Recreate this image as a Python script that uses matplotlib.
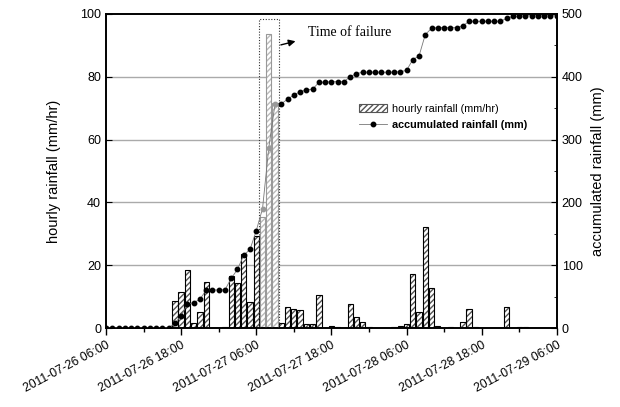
import numpy as np
import pandas as pd
import matplotlib
matplotlib.use("Agg")
import matplotlib.pyplot as plt
import matplotlib.dates as mdates
from matplotlib.patches import Patch, Rectangle
from matplotlib.lines import Line2D

plt.rcParams['font.family'] = ['Liberation Sans', 'DejaVu Sans']

# hourly series, 2011-07-26 06:00 to 2011-07-29 06:00
times = pd.date_range('2011-07-26 06:00', periods=73, freq='h')

hourly_rain = [0, 0, 0, 0, 0, 0, 0, 0, 0, 0, 0,
               8.6, 11.6, 18.5, 1.7, 5.2, 14.5, 0, 0, 0.3,
               16.6, 14.2, 23.5, 8.2, 29.4, 35.4, 93.5, 71.5,
               1.7, 6.7, 6.1, 5.6, 1.2, 1.2, 10.5, 0, 0.6, 0.3, 0,
               7.6, 3.6, 2.0, 0.3, 0, 0, 0, 0.3, 0.6, 1.2,
               17.1, 5.2, 32.1, 12.6, 0.7, 0, 0.3, 0, 1.8, 6.2, 0.3,
               0, 0, 0, 0, 6.7, 0, 0.3, 0.3, 0, 0, 0, 0, 0]

accum_rain = [0, 0, 0, 0, 0, 0, 0, 0, 0, 0, 0,
              7.5, 19.6, 38.2, 40.3, 45.7, 60.5, 60.5, 60.5, 60.8,
              79, 93.4, 116, 125, 155, 190, 287, 357,
              357, 364, 371, 376, 379, 380, 391, 391, 392, 392, 392,
              400, 405, 407, 407, 407, 407, 407, 407, 408, 410,
              427, 433, 467, 477, 478, 478, 478, 478, 481, 488, 488,
              488, 488, 488, 488, 493, 496, 496.5, 497, 497, 497, 497, 497, 497]

# hours falling inside the failure window
failure_idx = [25, 26, 27]

hourly_rain = np.array(hourly_rain)
accum_rain = np.array(accum_rain)
normal = np.ones(len(times), dtype=bool)
normal[failure_idx] = False

fig = plt.figure(figsize=(6.2, 4.07), dpi=100)
ax = fig.add_axes([0.171, 0.194, 0.727, 0.772])
ax2 = ax.twinx()

w = 0.85 / 24
# hatched fill, then the outline on top
ax.bar(times[normal], hourly_rain[normal], width=w, color='white',
       edgecolor='#555555', hatch='//////', linewidth=0, zorder=2)
ax.bar(times[normal], hourly_rain[normal], width=w, fill=False,
       edgecolor='black', linewidth=0.8, zorder=3)
ax.bar(times[~normal], hourly_rain[~normal], width=w, color='white',
       edgecolor='#bbbbbb', hatch='//////', linewidth=0, zorder=2)
ax.bar(times[~normal], hourly_rain[~normal], width=w, fill=False,
       edgecolor='#999999', linewidth=0.8, zorder=3)

ax2.plot(times, accum_rain, color='#777777', lw=0.6, zorder=4)
ax2.plot(times[normal], accum_rain[normal], 'o', color='black', ms=3.2, zorder=5)
ax2.plot(times[~normal], accum_rain[~normal], 'o', color='#999999', ms=3.2, zorder=5)

ax.set_ylim(0, 100)
ax2.set_ylim(0, 500)
ax.set_xlim(times[0], times[-1])
ax.set_yticks([0, 20, 40, 60, 80, 100])
ax2.set_yticks([0, 100, 200, 300, 400, 500])
ax2.set_yticks(np.arange(50, 500, 100), minor=True)
for y in [20, 40, 60, 80]:
    ax.axhline(y, color='#aaaaaa', lw=1, zorder=1)

ax.xaxis.set_major_locator(mdates.HourLocator(byhour=[6, 18]))
ax.xaxis.set_minor_locator(mdates.HourLocator(byhour=[0, 12]))
ax.xaxis.set_major_formatter(mdates.DateFormatter('%Y-%m-%d %H:%M'))
ax.tick_params(axis='x', which='major', length=5, width=1, labelsize=8.8, pad=3)
ax.tick_params(axis='x', which='minor', length=3, width=1)
ax.tick_params(axis='y', labelsize=9, length=4, direction='in')
ax2.tick_params(axis='y', which='major', labelsize=9, length=4, direction='in')
ax2.tick_params(axis='y', which='minor', length=2, direction='in')
for lab in ax.get_xticklabels():
    lab.set_rotation(28)
    lab.set_ha('right')
    lab.set_rotation_mode('anchor')

for a in (ax, ax2):
    for s in a.spines.values():
        s.set_linewidth(1.2)

ax.set_ylabel('hourly rainfall (mm/hr)', fontsize=10.5, labelpad=14)
ax2.set_ylabel('accumulated rainfall (mm)', fontsize=10.5, labelpad=6)

# failure window box and note
t0 = mdates.date2num(times[0])
ax.add_patch(Rectangle((t0 + 24.4 / 24, 0), 3.2 / 24, 98.5, fill=False,
                       ls=(0, (1, 1.5)), lw=0.8, color='#333333', zorder=6))
ax.annotate('', xy=(t0 + 30.7 / 24, 91.5), xytext=(t0 + 27.5 / 24, 89.9),
            arrowprops=dict(arrowstyle='-|>', color='black', lw=1, mutation_scale=10))
ax.text(t0 + 32.2 / 24, 94, 'Time of failure', family='Liberation Serif',
        fontsize=10, va='center', ha='left')

handles = [Patch(facecolor='white', edgecolor='#555555', hatch='//////', lw=0.8),
           Line2D([], [], color='#777777', lw=0.6, marker='o', mfc='black',
                  mec='black', ms=3.2)]
leg = ax2.legend(handles, ['hourly rainfall (mm/hr)', 'accumulated rainfall (mm)'],
                 loc='upper left', bbox_to_anchor=(0.54, 0.745), frameon=False,
                 fontsize=7.8, handlelength=2.6, handletextpad=0.4, labelspacing=0.6)
leg.get_texts()[1].set_fontweight('bold')

fig.savefig('out.png', dpi=100)
